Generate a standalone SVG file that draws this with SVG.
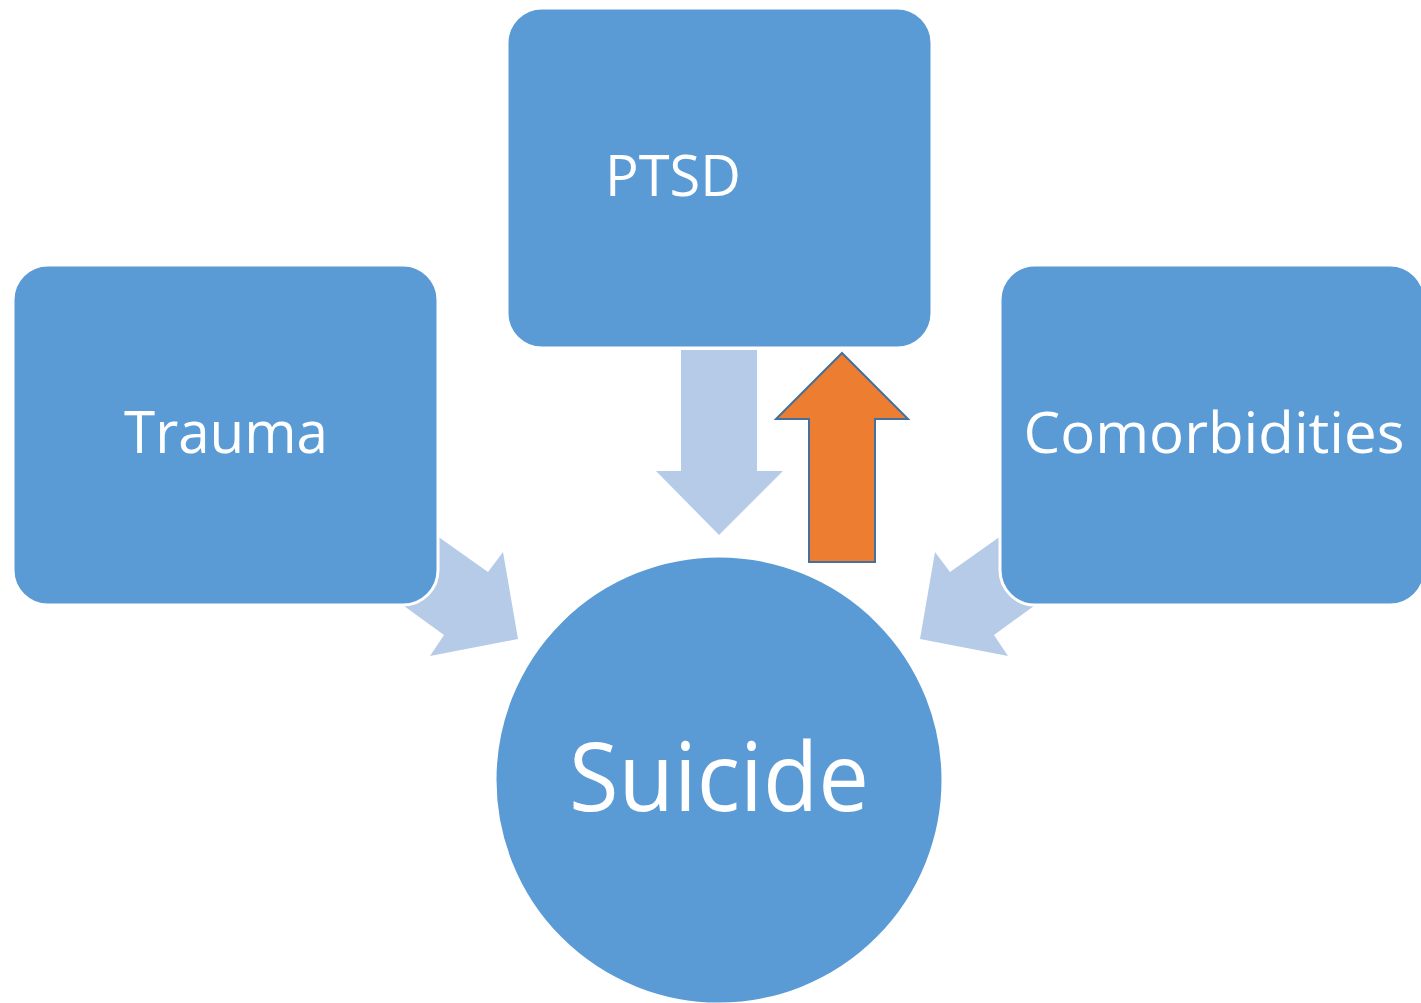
<svg xmlns="http://www.w3.org/2000/svg" width="1421" height="1003" viewBox="0 0 1421 1003">
<style>
.box{fill:#5B9BD5;stroke:#FFFFFF;stroke-width:3}
.conn{fill:#B6CBE8}
.lbl{fill:#FFFFFF;font-family:"Open Sans","Liberation Sans",sans-serif;text-anchor:middle}
</style>
<rect width="1421" height="1003" fill="#FFFFFF"/>
<g id="connectors">
<polygon class="conn" points="392,504 440,538 488,572 503,552 518,639 430,656 444,635 404,606 348,566"/>
<polygon class="conn" points="1046,504 998,538 950,572 935,552 920,639 1008,656 994,635 1034,606 1090,566"/>
<polygon class="conn" points="681,350 757,350 757,471 783,471 719,535 656,471 681,471"/>
<polygon points="842,353 908,419 875,419 875,562 809,562 809,419 776,419" fill="#ED7D31" stroke="#41719C" stroke-width="2"/>
</g>
<g id="trauma">
<rect class="box" x="13" y="265" width="425" height="340" rx="35"/>
<text class="lbl" x="226" y="453" font-size="59" textLength="204" lengthAdjust="spacingAndGlyphs">Trauma</text>
</g>
<g id="ptsd">
<rect class="box" x="507" y="8" width="425" height="340" rx="35"/>
<text class="lbl" x="673" y="196" font-size="57" textLength="136" lengthAdjust="spacingAndGlyphs">PTSD</text>
</g>
<g id="comorbidities">
<rect class="box" x="1000" y="265" width="425" height="340" rx="35"/>
<text class="lbl" x="1214" y="453" font-size="57" textLength="381" lengthAdjust="spacingAndGlyphs">Comorbidities</text>
</g>
<g id="suicide">
<circle class="box" cx="719" cy="780" r="224"/>
<text class="lbl" x="719" y="811" font-size="96" textLength="300" lengthAdjust="spacingAndGlyphs">Suicide</text>
</g>
</svg>
